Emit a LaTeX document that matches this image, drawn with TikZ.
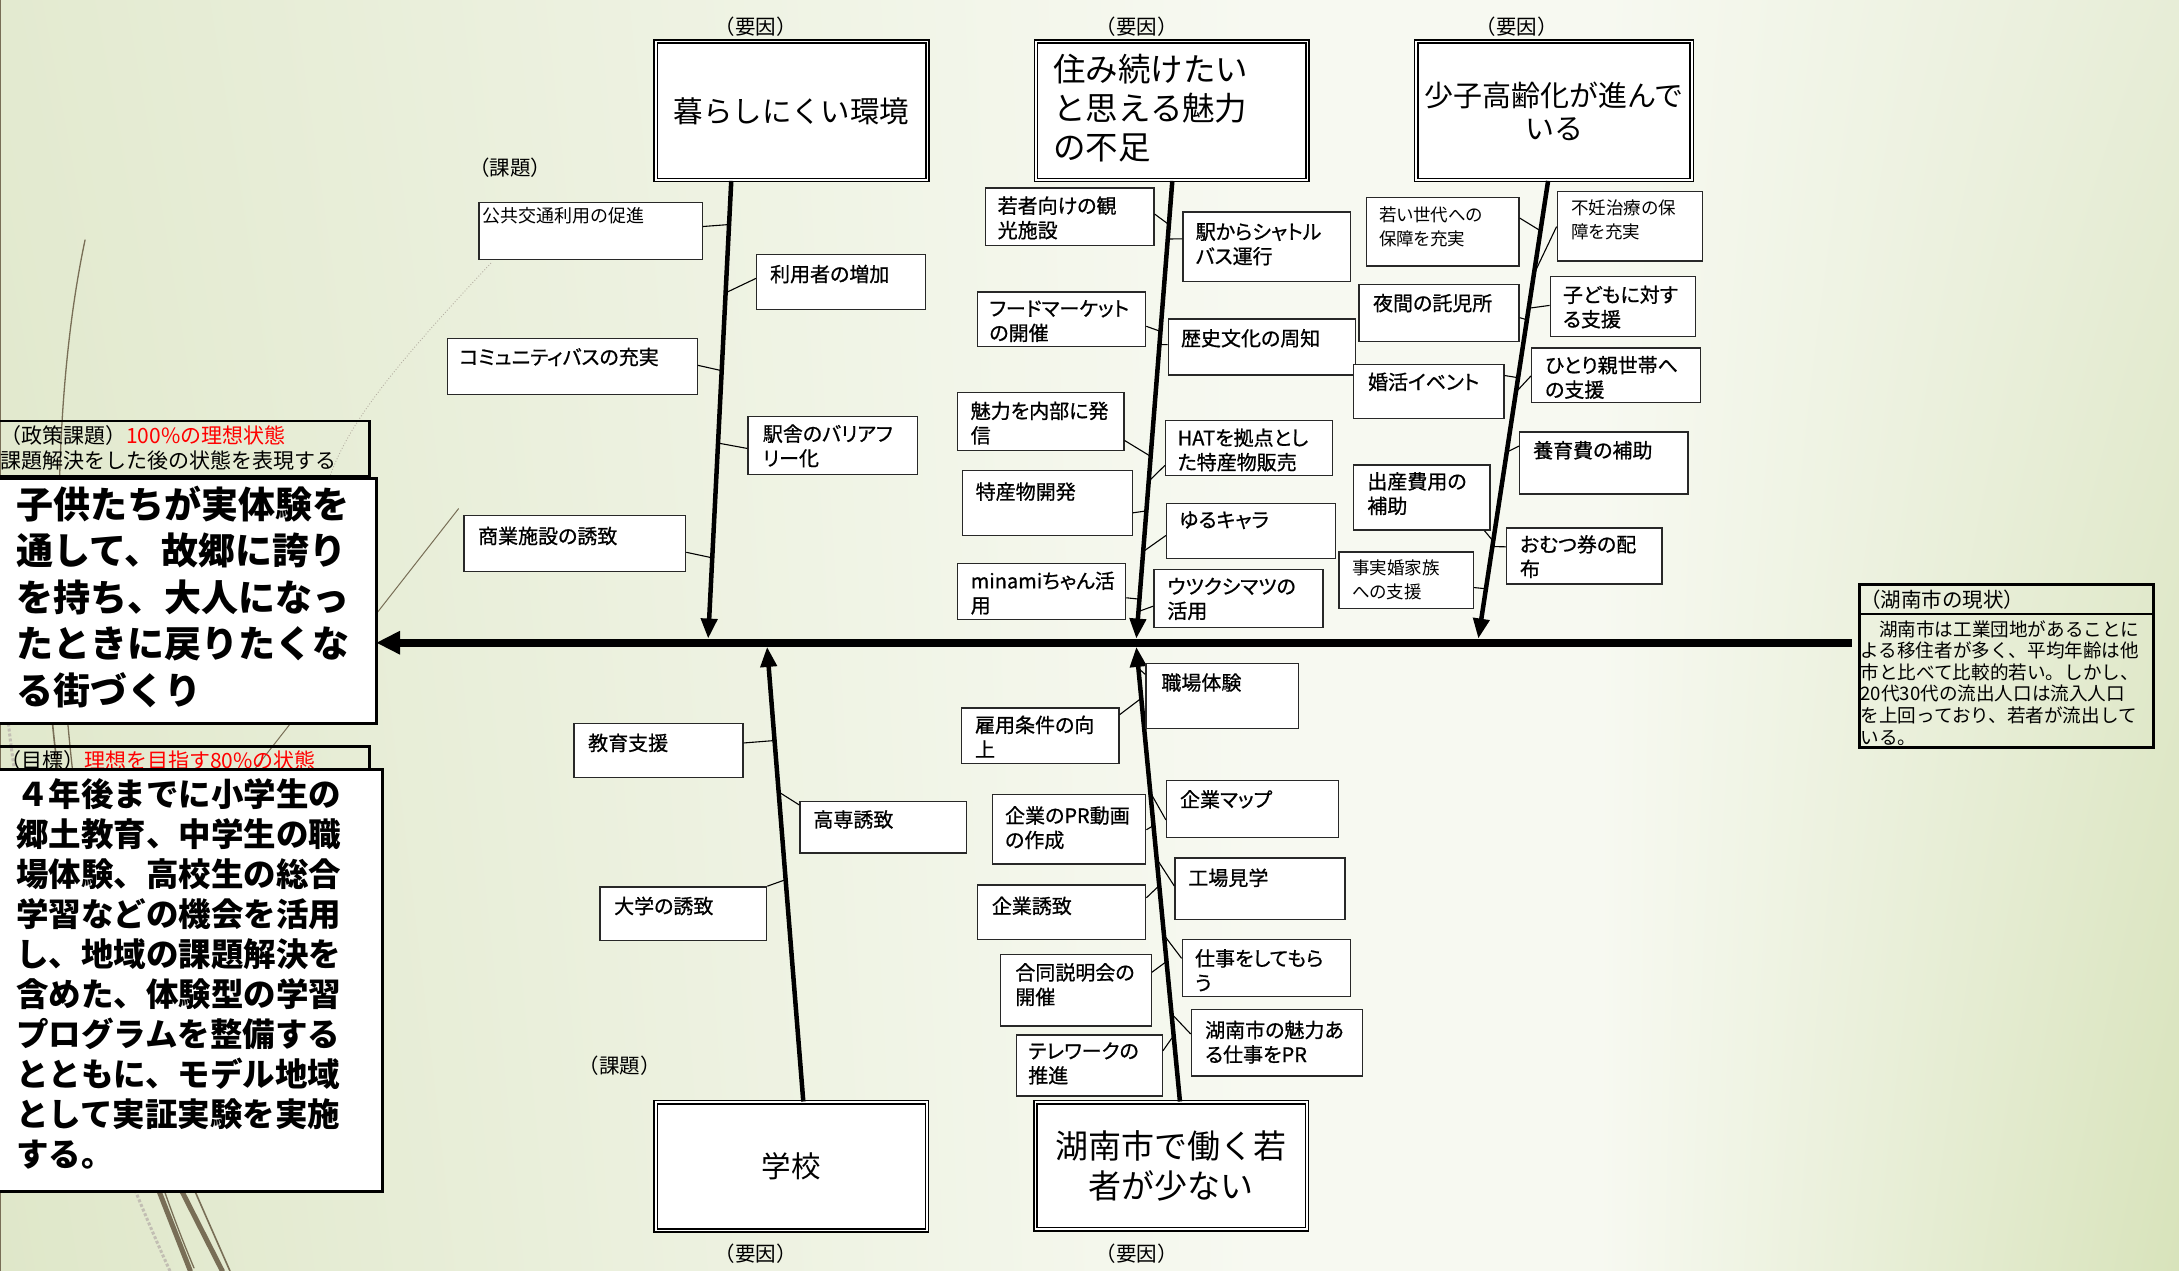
\documentclass[tikz,border=0pt]{standalone}
\usepackage{fontspec}
\setmainfont{Noto Sans CJK JP}
\newfontfamily\jpp{Noto Sans CJK JP}[RawFeature=+palt]
\newfontfamily\jpm{Noto Sans CJK JP}[RawFeature=+palt,FakeBold=0.8]
\usetikzlibrary{arrows.meta,calc,shadings}

\definecolor{bgTL}{RGB}{227,234,208}
\definecolor{bgBL}{RGB}{223,231,201}
\definecolor{bgM}{RGB}{247,249,241}
\definecolor{bgTR}{RGB}{231,237,215}
\definecolor{bgBR}{RGB}{216,227,187}
\definecolor{stem}{RGB}{120,110,86}
\definecolor{frame}{RGB}{40,40,40}

% small measure box: [text style]{name}{x1}{y1}{x2}{y2}{text shift}{text}
\newcommand\cbox[8][]{%
  \node[cb, anchor=north west, minimum width={(#5-#3)*1.3897pt}, minimum height={(#6-#4)*1.3897pt}] (#2) at (#3,#4) {};
  \node[ct, anchor=north west, #1] (#2t) at ([shift={(#7)}]#2.north west) {#8};
}
% twig from a box side to a point on a bone: {box}{east/west}{fraction}{bone}{position}
\newcommand\twig[5]{%
  \draw[cn] ($(#1.north #2)!#3!(#1.south #2)$) -- ($(#4s)!#5!(#4e)$);
}
% double framed cause box: [style]{name}{x1}{y1}{x2}{y2}{text}
\newcommand\tbox[7][]{%
  \node[tb, minimum width={(#5-#3-3.3)*1.3897pt}, minimum height={(#6-#4-3.3)*1.3897pt}, #1] (#2) at ({(#3+#5)/2},{(#4+#6)/2}) {#7};
}

\begin{document}
\begin{tikzpicture}[x=1.3897pt, y=-1.3897pt,
  cb/.style={draw=frame, line width=1.3pt, fill=white, inner sep=0pt, rectangle},
  ct/.style={inner sep=0pt, align=left, font=\jpm\fontsize{20}{24.5}\selectfont},
  ctl/.style={font=\jpp\fontsize{17.5}{24}\selectfont},
  ctt/.style={font=\jpp\fontsize{18}{22}\selectfont},
  cn/.style={draw=black, line width=1.1pt},
  tb/.style={draw=black, line width=1.5pt, double=white, double distance=1.6pt, fill=white, inner sep=0pt, rectangle, align=center},
  bone/.style={line width=4.5pt, -{Triangle[length=20pt,width=16pt]}},
  spine/.style={line width=8pt, -{Triangle[length=24pt,width=22pt]}},
  lbl/.style={inner sep=0pt, font=\fontsize{20.5}{20.5}\selectfont},
  hdr/.style={draw=black, line width=2.5pt, inner sep=0pt, rectangle},
  big/.style={draw=black, line width=3pt, fill=white, inner sep=0pt, rectangle},
  grass/.style={draw=stem, line cap=round},
]
\useasboundingbox (0,0) rectangle (1568,914.6);

% backdrop
\shade[upper left=bgTL, lower left=bgBL, upper right=bgM, lower right=bgM] (0,0) rectangle (905,914.6);
\fill[bgM] (904,0) rectangle (1151,914.6);
\shade[upper left=bgM, lower left=bgM, upper right=bgTR, lower right=bgBR] (1150,0) rectangle (1568,914.6);

% grass blades
\draw[grass, line width=1pt] (0.4,0) -- (0.4,914.6);
\draw[grass, line width=1.3pt] (139.6,912.4) .. controls (43.2,683.6) and (21.6,359.8) .. (61.2,172.7);
\draw[grass, line width=1.6pt] (165.5,914.6) .. controls (80,720) and (25,600) .. (36,400);
\draw[stem!45, line width=3pt, dotted] (122.3,914.6) .. controls (70,800) and (20,650) .. (6,520);
\draw[grass, line width=5pt] (114,856) -- (137,914.6);
\draw[grass, line width=5pt] (131,857.4) -- (160,914.6);
\draw[grass, line width=1pt] (330,366) -- (180,557.7);
\draw[stem!55, line width=0.9pt, dotted] (353.3,189.3) .. controls (287.8,259) and (251.8,302.2) .. (237.5,342.5);

% policy goal, target and present situation panels
\node[hdr, anchor=north west, minimum width={268*1.3897pt}, minimum height={39.6*1.3897pt}] (H1) at (-3,302.2) {};
\node[anchor=north west, inner sep=0pt, align=left, font=\fontsize{21}{25}\selectfont] (H1t) at ([shift={(3,4)}]H1.north west) {（政策課題）\textcolor{red}{100\%の理想状態}\\課題解決をした後の状態を表現する};
\node[big, anchor=north west, minimum width={272.8*1.3897pt}, minimum height={175.8*1.3897pt}] (M) at (-3,343.5) {};
\node[anchor=north west, inner sep=0pt, align=left, font=\bfseries\fontsize{37}{46.5}\selectfont] (Mt) at ([shift={(14.5,6)}]M.north west) {子供たちが実体験を\\通して、故郷に誇り\\を持ち、大人になっ\\たときに戻りたくな\\る街づくり};

\node[hdr, anchor=north west, minimum width={268*1.3897pt}, minimum height={25*1.3897pt}] (H2) at (-3,536.1) {};
\node[anchor=north west, inner sep=0pt, font=\fontsize{21}{25}\selectfont] (H2t) at ([shift={(3,4.1)}]H2.north west) {（目標）\textcolor{red}{理想を目指す80\%の状態}};
\node[big, anchor=north west, minimum width={277.2*1.3897pt}, minimum height={303.3*1.3897pt}] (G) at (-3,552.9) {};
\node[anchor=north west, inner sep=0pt, align=left, font=\bfseries\fontsize{32.5}{40}\selectfont] (Gt) at ([shift={(14.5,7.4)}]G.north west) {４年後までに小学生の\\郷土教育、中学生の職\\場体験、高校生の総合\\学習などの機会を活用\\し、地域の課題解決を\\含めた、体験型の学習\\プログラムを整備する\\とともに、モデル地域\\として実証実験を実施\\する。};

\node[draw=black, line width=3pt, inner sep=0pt, anchor=north west, minimum width={211.5*1.3897pt}, minimum height={116.8*1.3897pt}] (R) at (1337.2,419.8) {};
\draw[line width=2.5pt] ($(R.north west)!0.184!(R.south west)$) -- ($(R.north east)!0.184!(R.south east)$);
\node[anchor=north west, inner sep=0pt, font=\fontsize{20.5}{20.5}\selectfont] (Rh) at ([shift={(1.3,4.7)}]R.north west) {（湖南市の現状）};
\begin{scope}
  \clip ($(R.north west)!0.184!(R.south west)$) rectangle ([shift={(-1.1,-1.1)}]R.south east);
  \node[anchor=north west, inner sep=0pt, align=left, font=\fontsize{18.6}{21.6}\selectfont] (Rp) at ([shift={(1.5,26.5)}]R.north west) {　湖南市は工業団地があることに\\よる移住者が多く、平均年齢は他\\市と比べて比較的若い。しかし、\\20代30代の流出人口は流入人口\\を上回っており、若者が流出して\\いる。};
\end{scope}

% cause boxes
\tbox[font=\fontsize{29.5}{36}\selectfont]{T1}{470.2}{28.3}{669.2}{131.3}{暮らしにくい環境}
\tbox{T2}{743.8}{28.3}{942.6}{131.3}{}
\tbox[font=\fontsize{29}{33}\selectfont]{T3}{1017.5}{28.3}{1219}{131.3}{少子高齢化が進んで\\いる}
\tbox[font=\fontsize{29.5}{36}\selectfont]{T4}{470.2}{791.5}{668.8}{887}{学校}
\tbox[font=\fontsize{33}{40.3}\selectfont]{T5}{743.5}{791.5}{942.1}{886.2}{湖南市で働く若\\者が少ない}
\node[anchor=west, inner sep=0pt, align=left, font=\fontsize{32.5}{39.4}\selectfont] (T2t) at ([shift={(13,-2)}]T2.west) {住み続けたい\\と思える魅力\\の不足};

\node[lbl] (L1) at (544,19) {（要因）};
\node[lbl] (L2) at (818,19) {（要因）};
\node[lbl] (L3) at (1091.4,19) {（要因）};
\node[lbl] (L4) at (544,902.5) {（要因）};
\node[lbl] (L5) at (818,902.5) {（要因）};
\node[lbl] (K1) at (367,121) {（課題）};
\node[lbl] (K2) at (446.1,767) {（課題）};

% spine and bones
\coordinate (spR) at (1332.4,462.5);
\coordinate (spL) at (270.6,462.5);
\draw[spine] (spR) -- (spL);

\coordinate (k1s) at ($(T1.south west)!0.279!(T1.south east)$);
\coordinate (k1e) at (509.6,459.5);
\coordinate (k2s) at ($(T2.south west)!0.502!(T2.south east)$);
\coordinate (k2e) at (817.7,459.5);
\coordinate (k3s) at ($(T3.south west)!0.4786!(T3.south east)$);
\coordinate (k3e) at (1063.8,459.5);
\coordinate (k4s) at ($(T4.north west)!0.5435!(T4.north east)$);
\coordinate (k4e) at (552,465.5);
\coordinate (k5s) at ($(T5.north west)!0.532!(T5.north east)$);
\coordinate (k5e) at (817.7,465.5);
\foreach \k in {1,...,5} {\draw[bone] (k\k s) -- (k\k e);}

% measures on the bones
\cbox[ctt]{B1a}{344.2}{145.3}{504.9}{186.5}{3,3.9}{公共交通利用の促進}
\cbox{B1b}{544}{182.6}{665.6}{222.3}{10,7.8}{利用者の増加}
\cbox{B1c}{321.4}{243.1}{501.3}{283.4}{9,7}{コミュニティバスの充実}
\cbox{B1d}{537.8}{299.2}{659.6}{341}{11,6.1}{駅舎のバリアフ\\リー化}
\cbox{B1e}{333.4}{370.5}{492.9}{410.8}{10.5,8.4}{商業施設の誘致}

\cbox{B2a}{708.8}{134.8}{829.9}{176}{9,6.4}{若者向けの観\\光施設}
\cbox{B2b}{850.8}{152.1}{971.4}{202}{9.5,8.4}{駅からシャトル\\バス運行}
\cbox{B2c}{702.8}{209.7}{823.9}{249.1}{9,6.1}{フードマーケット\\の開催}
\cbox{B2d}{840.2}{229.1}{974.9}{269.4}{9.5,7.5}{歴史文化の周知}
\cbox{B2e}{688.4}{281.9}{808.3}{323.7}{10,6.9}{魅力を内部に発\\信}
\cbox{B2f}{838.3}{302.2}{958.2}{341.6}{9,6}{HATを拠点とし\\た特産物販売}
\cbox{B2g}{692}{338}{814.3}{384.8}{10,9}{特産物開発}
\cbox{B2h}{839}{361.6}{960.6}{401.3}{9.5,6.3}{ゆるキャラ}
\cbox{B2i}{688.4}{404.8}{809.5}{445.1}{10,6.4}{minamiちゃん活\\用}
\cbox{B2j}{829.9}{409.3}{951.6}{451.1}{10,6.3}{ウツクシマツの\\活用}

\cbox[ctl]{B3a}{982.7}{141.7}{1092.6}{190.9}{9.5,7.1}{若い世代への\\保障を充実}
\cbox[ctl]{B3b}{1120.1}{137.2}{1224.4}{187.4}{10.5,6.3}{不妊治療の保\\障を充実}
\cbox{B3c}{977.4}{204.4}{1092.6}{245.2}{10.5,6.9}{夜間の託児所}
\cbox{B3d}{1115.1}{198.4}{1219.5}{241.6}{9.5,6.9}{子どもに対す\\る支援}
\cbox{B3e}{973.3}{261.9}{1081.7}{300.7}{11,6.1}{婚活イベント}
\cbox{B3f}{1101.7}{250}{1223.3}{289.4}{10,6}{ひとり親世帯へ\\の支援}
\cbox{B3g}{1093.1}{310.3}{1214.3}{355}{10,6.9}{養育費の補助}
\cbox{B3h}{973.3}{334.1}{1071.7}{381}{10.5,5.5}{出産費用の\\補助}
\cbox{B3i}{1083.6}{379.5}{1195.5}{419.7}{10,5.4}{おむつ券の配\\布}
\cbox[ctl]{B3j}{963}{396.8}{1059.8}{437.6}{10,6.2}{事実婚家族\\への支援}

\cbox{B4a}{412.6}{519.9}{534.2}{559}{10.5,7.9}{教育支援}
\cbox{B4b}{575.2}{576.3}{695.1}{613.4}{10,6.6}{高専誘致}
\cbox{B4c}{431.3}{637.7}{551.2}{676.2}{10.5,7.4}{大学の誘致}

\cbox{B5a}{824.1}{477}{933.7}{523.6}{11.5,7.4}{職場体験}
\cbox{B5b}{691.5}{509.1}{804.8}{548.8}{10,5.7}{雇用条件の向\\上}
\cbox{B5c}{839}{561}{962.5}{602.4}{10,7.4}{企業マップ}
\cbox{B5d}{713.6}{571.1}{824}{621.2}{9.5,8.9}{企業のPR動画\\の作成}
\cbox{B5e}{845}{616.9}{967.3}{661.2}{10,7.9}{工場見学}
\cbox{B5f}{702.8}{636.3}{824}{675.4}{10.8,8.8}{企業誘致}
\cbox{B5g}{850.3}{675.4}{971.4}{716.8}{9.5,7.4}{仕事をしてもら\\う}
\cbox{B5h}{719.5}{686.4}{828}{737.9}{11,6.5}{合同説明会の\\開催}
\cbox{B5i}{856.8}{726}{979.8}{773.8}{10.3,8.3}{湖南市の魅力あ\\る仕事をPR}
\cbox{B5j}{730.8}{744.3}{835.9}{788.3}{9,5.6}{テレワークの\\推進}

% twigs joining the measures to their bones
\twig{B1a}{east}{0.42}{k1}{0.0953}
\twig{B1b}{west}{0.436}{k1}{0.2445}
\twig{B1c}{east}{0.48}{k1}{0.4146}
\twig{B1d}{west}{0.55}{k1}{0.5728}
\twig{B1e}{east}{0.653}{k1}{0.8236}
\twig{B2a}{east}{0.456}{k2}{0.0953}
\twig{B2b}{west}{0.389}{k2}{0.1269}
\twig{B2c}{east}{0.622}{k2}{0.3288}
\twig{B2d}{west}{0.459}{k2}{0.3576}
\twig{B2e}{east}{0.82}{k2}{0.6019}
\twig{B2f}{west}{0.81}{k2}{0.6562}
\twig{B2g}{east}{0.65}{k2}{0.7211}
\twig{B2h}{west}{0.584}{k2}{0.8099}
\twig{B2i}{east}{0.615}{k2}{0.9139}
\twig{B2j}{west}{0.629}{k2}{0.9409}
\twig{B3a}{east}{0.303}{k3}{0.109}
\twig{B3b}{west}{0.506}{k3}{0.2039}
\twig{B3c}{east}{0.58}{k3}{0.3033}
\twig{B3d}{west}{0.484}{k3}{0.2782}
\twig{B3e}{east}{0.209}{k3}{0.43}
\twig{B3f}{west}{0.508}{k3}{0.4616}
\twig{B3g}{west}{0.233}{k3}{0.5929}
\draw[cn] ($(B3h.south west)!0.956!(B3h.south east)$) -- ($(k3s)!0.7872!(k3e)$);
\twig{B3i}{west}{0.34}{k3}{0.799}
\twig{B3j}{east}{0.623}{k3}{0.8912}
\twig{B4a}{east}{0.368}{k4}{0.794}
\twig{B4b}{west}{0.078}{k4}{0.681}
\draw[cn] (B4c.north east) -- ($(k4s)!0.488!(k4e)$);
\twig{B5a}{west}{0.174}{k5}{0.953}
\twig{B5b}{east}{0.126}{k5}{0.887}
\twig{B5c}{west}{0.686}{k5}{0.680}
\twig{B5d}{east}{0.509}{k5}{0.607}
\twig{B5e}{west}{0.456}{k5}{0.534}
\twig{B5f}{east}{0.243}{k5}{0.475}
\twig{B5g}{west}{0.336}{k5}{0.366}
\twig{B5h}{east}{0.252}{k5}{0.308}
\twig{B5i}{west}{0.37}{k5}{0.193}
\twig{B5j}{east}{0.264}{k5}{0.145}
\end{tikzpicture}
\end{document}
